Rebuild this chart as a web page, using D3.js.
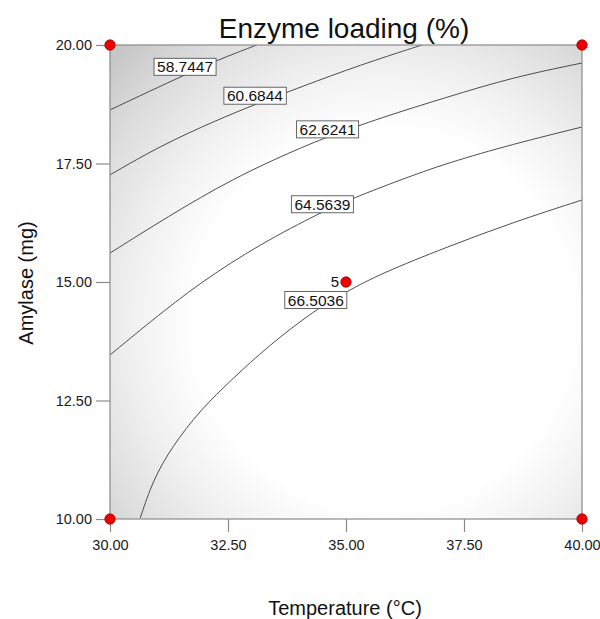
<!DOCTYPE html>
<html>
<head>
<meta charset="utf-8">
<script src="https://cdn.jsdelivr.net/npm/d3@7"></script>
<style>
  html, body { margin: 0; padding: 0; background: #fff; }
  svg { display: block; font-family: "Liberation Sans", Arial, sans-serif; }
</style>
</head>
<body>
<svg id="chart" width="600" height="619"></svg>
<script>
// Axis ticks
const tempTicks = [30, 32.5, 35, 37.5, 40];
const amylaseTicks = [10, 12.5, 15, 17.5, 20];

// Contour levels of Enzyme loading (%)
const levels = [58.7447, 60.6844, 62.6241, 64.5639, 66.5036];

// Contour paths, [temperature, amylase] for each level
const contour58 = [[30, 18.63], [30.85, 19.03], [31.59, 19.37], [32.27, 19.68], [33.11, 20.0]];
const contour60 = [[30, 17.26], [31.06, 17.87], [32.27, 18.42], [33.11, 18.76], [34.03, 19.11], [35.30, 19.58], [36.61, 20.0]];
const contour62 = [[30, 15.61], [31.21, 16.37], [32.61, 17.19], [34.03, 17.83], [34.66, 18.08], [35.72, 18.46], [37.14, 18.90], [38.54, 19.32], [40, 19.62]];
const contour64 = [[30, 13.46], [30.85, 14.16], [31.91, 14.99], [33.18, 15.80], [34.49, 16.48], [35.15, 16.77], [36.14, 17.15], [37.14, 17.51], [38.54, 17.91], [40, 18.27]];
const contour66 = [[30.64, 10.02], [30.91, 10.82], [31.31, 11.52], [31.91, 12.30], [32.61, 12.97], [33.33, 13.63], [34.34, 14.41], [35.04, 14.81], [35.72, 15.17], [37.14, 15.74], [38.54, 16.26], [40, 16.73]];
const contourPaths = [contour58, contour60, contour62, contour64, contour66];

// Where each level's value label sits, [temperature, amylase]
const labelSpots = [[31.59, 19.54], [33.07, 18.93], [34.61, 18.22], [34.50, 16.64], [34.36, 14.62]];

// Design points and their replicate counts
const designPoints = [[30, 10], [30, 20], [40, 10], [40, 20], [35, 15]];
const replicates = [1, 1, 1, 1, 5];

const svg = d3.select("#chart");
const plotLeft = 110, plotRight = 582, plotTop = 45, plotBottom = 519;

const x = d3.scaleLinear().domain([30, 40]).range([plotLeft, plotRight]);
const y = d3.scaleLinear().domain([10, 20]).range([plotBottom, plotTop]);

const defs = svg.append("defs");
const grad = defs.append("radialGradient")
  .attr("id", "shade")
  .attr("cx", 0.58).attr("cy", 0.58).attr("r", 0.8)
  .attr("fx", 0.58).attr("fy", 0.58);
grad.append("stop").attr("offset", "0").attr("stop-color", "#ffffff");
grad.append("stop").attr("offset", "0.5").attr("stop-color", "#ffffff");
grad.append("stop").attr("offset", "0.66").attr("stop-color", "#f1f1f1");
grad.append("stop").attr("offset", "0.85").attr("stop-color", "#dcdcdc");
grad.append("stop").attr("offset", "1").attr("stop-color", "#c6c6c6");

defs.append("clipPath").attr("id", "plotClip")
  .append("rect")
  .attr("x", plotLeft).attr("y", plotTop)
  .attr("width", plotRight - plotLeft).attr("height", plotBottom - plotTop);

// Plot background
svg.append("rect")
  .attr("x", plotLeft).attr("y", plotTop)
  .attr("width", plotRight - plotLeft).attr("height", plotBottom - plotTop)
  .attr("fill", "url(#shade)");

// Contour lines
const line = d3.line()
  .x(d => x(d[0]))
  .y(d => y(d[1]))
  .curve(d3.curveBasis);

svg.append("g")
  .attr("clip-path", "url(#plotClip)")
  .selectAll("path")
  .data(contourPaths)
  .join("path")
  .attr("d", line)
  .attr("fill", "none")
  .attr("stroke", "#3a3a3a")
  .attr("stroke-width", 0.9);

// Plot frame
svg.append("rect")
  .attr("x", plotLeft).attr("y", plotTop)
  .attr("width", plotRight - plotLeft).attr("height", plotBottom - plotTop)
  .attr("fill", "none")
  .attr("stroke", "#8a8a8a")
  .attr("stroke-width", 1.2);

// Axes
const fmt = d3.format(".2f");
const xAxis = svg.append("g")
  .attr("transform", `translate(0,${plotBottom})`)
  .call(d3.axisBottom(x).tickValues(tempTicks).tickFormat(fmt).tickSize(13).tickSizeOuter(0));
const yAxis = svg.append("g")
  .attr("transform", `translate(${plotLeft},0)`)
  .call(d3.axisLeft(y).tickValues(amylaseTicks).tickFormat(fmt).tickSize(14).tickSizeOuter(0));

[xAxis, yAxis].forEach(g => {
  g.attr("font-size", 14.5).attr("font-family", "'Liberation Sans', Arial, sans-serif");
  g.select(".domain").remove();
  g.selectAll(".tick line").attr("stroke", "#8a8a8a").attr("stroke-width", 1.2);
  g.selectAll(".tick text").attr("fill", "#1a1a1a");
});
xAxis.selectAll(".tick text").attr("y", 21);
yAxis.selectAll(".tick text").attr("x", -18);

// Level labels
const labels = svg.append("g").selectAll("g")
  .data(levels)
  .join("g")
  .attr("transform", (d, i) => `translate(${x(labelSpots[i][0])},${y(labelSpots[i][1])})`);

labels.append("text")
  .attr("text-anchor", "middle")
  .attr("dy", "0.36em")
  .attr("fill", "#111")
  .attr("font-size", 15.5)
  .text(d => d.toFixed(4));

labels.each(function () {
  const g = d3.select(this);
  const bb = g.select("text").node().getBBox();
  g.insert("rect", "text")
    .attr("x", bb.x - 3).attr("y", -8.5)
    .attr("width", bb.width + 6).attr("height", 17)
    .attr("fill", "#fff")
    .attr("stroke", "#555")
    .attr("stroke-width", 0.9);
});

// Design points
svg.append("g").selectAll("circle")
  .data(designPoints)
  .join("circle")
  .attr("cx", d => x(d[0]))
  .attr("cy", d => y(d[1]))
  .attr("r", 5.2)
  .attr("fill", "#ee0000")
  .attr("stroke", "#a00000")
  .attr("stroke-width", 0.8);

svg.append("g").selectAll("text")
  .data(designPoints.filter((d, i) => replicates[i] > 1))
  .join("text")
  .attr("x", d => x(d[0]) - 7)
  .attr("y", d => y(d[1]))
  .attr("dy", "0.36em")
  .attr("text-anchor", "end")
  .attr("fill", "#111")
  .attr("font-size", 15)
  .text(d => replicates[designPoints.indexOf(d)]);

// Titles
svg.append("text")
  .attr("x", 344).attr("y", 38)
  .attr("text-anchor", "middle")
  .attr("fill", "#111")
  .attr("font-size", 28)
  .text("Enzyme loading (%)");

svg.append("text")
  .attr("x", 345).attr("y", 615)
  .attr("text-anchor", "middle")
  .attr("fill", "#111")
  .attr("font-size", 20)
  .text("Temperature (°C)");

svg.append("text")
  .attr("transform", "translate(33,283) rotate(-90)")
  .attr("text-anchor", "middle")
  .attr("fill", "#111")
  .attr("font-size", 20)
  .text("Amylase (mg)");
</script>
</body>
</html>
